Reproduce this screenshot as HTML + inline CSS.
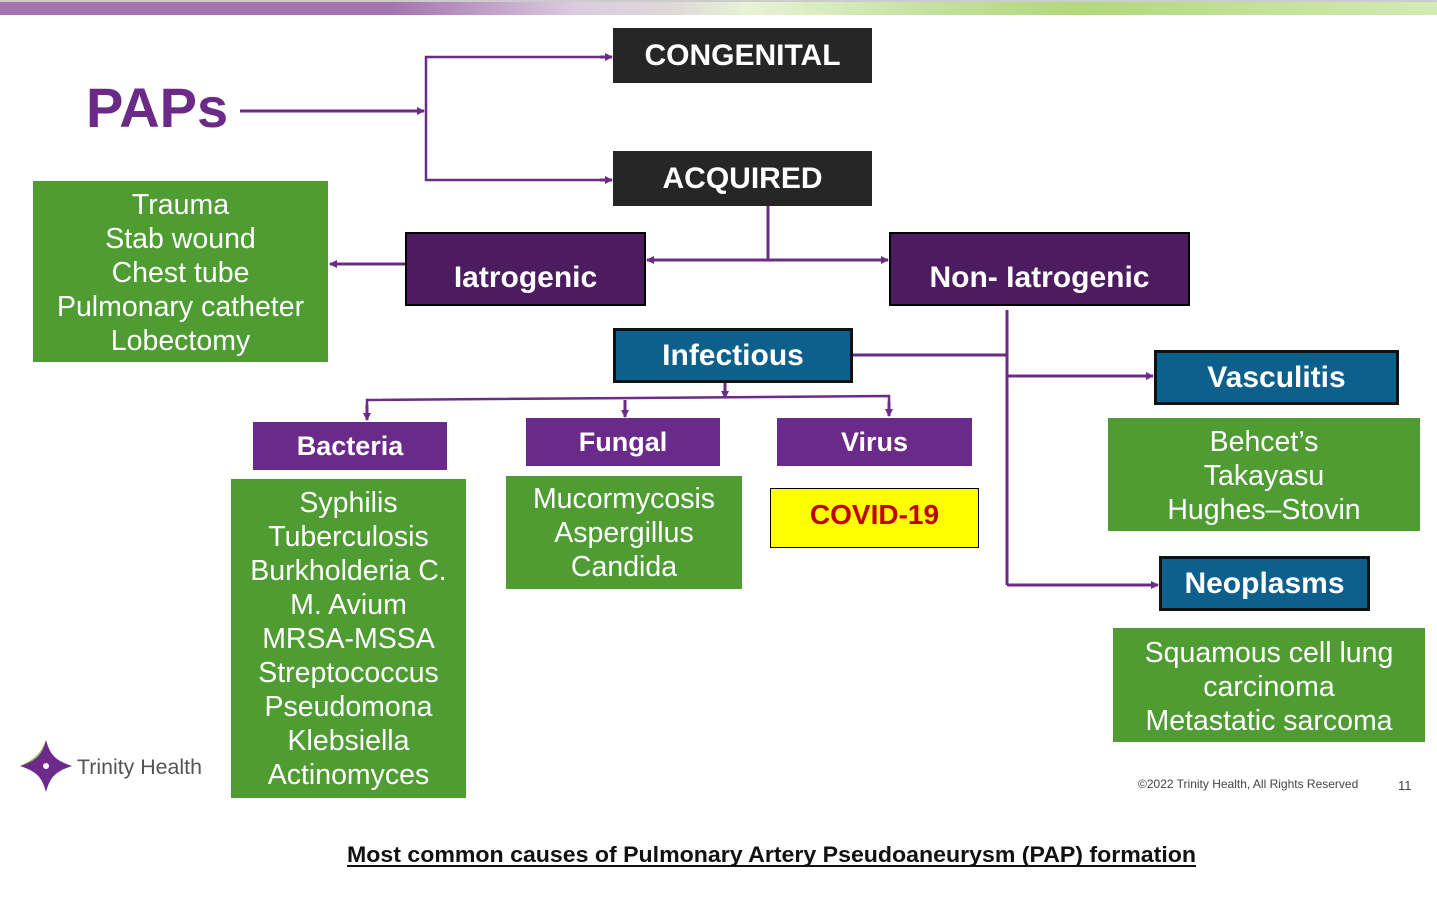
<!DOCTYPE html>
<html><head><meta charset="utf-8"><style>
*{margin:0;padding:0;box-sizing:border-box}
body{width:1437px;height:898px;position:relative;background:#fff;overflow:hidden;font-family:"Liberation Sans",Arial,sans-serif}
.b{position:absolute;display:flex;align-items:center;justify-content:center;text-align:center;color:#fff;font-weight:bold}
.k{background:#262626;font-size:30px}
.p{background:#4d1b5f;border:2px solid #000;font-size:30px}
.u{background:#0d5f8c;border:3px solid #111;font-size:30px}
.v{background:#6a2a8a;font-size:27px}
.g{position:absolute;background:#4f9c33;color:#fff;text-align:center;font-size:28.5px;line-height:34px}
</style></head><body>
<svg style="position:absolute;left:0;top:0" width="1437" height="898">
<defs>
<linearGradient id="bn" x1="0" x2="1">
<stop offset="0" stop-color="#a374ad"/><stop offset="0.27" stop-color="#a374ad"/><stop offset="0.32" stop-color="#b892c0"/><stop offset="0.4" stop-color="#dccbe0"/><stop offset="0.47" stop-color="#dedad8"/><stop offset="0.52" stop-color="#e8f3d6"/><stop offset="0.65" stop-color="#c3e0a0"/><stop offset="0.75" stop-color="#b1d87a"/><stop offset="0.9" stop-color="#c5e3a0"/><stop offset="1" stop-color="#d3ebb5"/>
</linearGradient>
<marker id="a" markerWidth="8" markerHeight="8" refX="7" refY="4" orient="auto" markerUnits="userSpaceOnUse"><path d="M0,0 L8,4 L0,8z" fill="#6a2c84"/></marker>
</defs>
<rect x="0" y="0" width="1437" height="2" fill="#ccc"/>
<rect x="0" y="2" width="1437" height="13" fill="url(#bn)"/>
<g stroke="#6a2c84" stroke-width="3" fill="none">
<line x1="240" y1="111" x2="424" y2="111" marker-end="url(#a)"/>
<polyline points="612,57 426,57 426,180 612,180" stroke-width="2.5"/>
<line x1="600" y1="57" x2="612" y2="57" marker-end="url(#a)"/>
<line x1="600" y1="180" x2="612" y2="180" marker-end="url(#a)"/>
<line x1="768" y1="206" x2="768" y2="260"/>
<line x1="768" y1="260" x2="647" y2="260" marker-end="url(#a)"/>
<line x1="768" y1="260" x2="888" y2="260" marker-end="url(#a)"/>
<line x1="405" y1="264" x2="330" y2="264" marker-end="url(#a)"/>
<line x1="1007" y1="310" x2="1007" y2="585"/>
<line x1="852" y1="355" x2="1007" y2="355"/>
<line x1="1007" y1="376" x2="1153" y2="376" marker-end="url(#a)"/>
<line x1="1007" y1="585" x2="1158" y2="585" marker-end="url(#a)"/>
<line x1="725" y1="382" x2="725" y2="398" marker-end="url(#a)"/>
<polyline points="367,418 367,400 889,396 889,416" stroke-width="2.5"/>
<line x1="367" y1="405" x2="367" y2="420" marker-end="url(#a)"/>
<line x1="625" y1="400" x2="625" y2="417" marker-end="url(#a)"/>
<line x1="889" y1="402" x2="889" y2="416" marker-end="url(#a)"/>
</g>
<text x="86" y="127" font-size="56" font-weight="bold" fill="#6b2a86" font-family="Liberation Sans">PAPs</text>
<text x="347" y="862" font-size="22" font-weight="bold" fill="#111" textLength="849" lengthAdjust="spacingAndGlyphs" font-family="Liberation Sans">Most common causes of Pulmonary Artery Pseudoaneurysm (PAP) formation</text>
<line x1="347" y1="866" x2="1196" y2="866" stroke="#111" stroke-width="2"/>
<text x="1138" y="788" font-size="12" fill="#444" font-family="Liberation Sans">©2022 Trinity Health, All Rights Reserved</text>
<text x="1398" y="790" font-size="13" fill="#444" font-family="Liberation Sans">11</text>
<g transform="translate(46,766)">
<path d="M0,-26 C4,-12 8,-6 26,0 C8,6 4,12 0,26 C-4,12 -8,6 -26,0 C-8,-6 -4,-12 0,-26z" fill="#6e2a8a"/>
<path d="M0,-26 C-4,-12 -8,-6 -26,0 C-14,-6 -6,-10 0,-26z" fill="#8bc34a"/>
<circle r="3" fill="#fff"/>
</g>
<text x="77" y="774" font-size="21" fill="#555" font-family="Liberation Sans" textLength="125" lengthAdjust="spacingAndGlyphs">Trinity Health</text>
</svg>
<div class="b k" style="left:613px;top:28px;width:259px;height:55px">CONGENITAL</div>
<div class="b k" style="left:613px;top:151px;width:259px;height:55px">ACQUIRED</div>
<div class="g" style="left:33px;top:181px;width:295px;height:181px;padding-top:7px">Trauma<br>Stab wound<br>Chest tube<br>Pulmonary catheter<br>Lobectomy</div>
<div class="b p" style="left:405px;top:232px;width:241px;height:74px;padding-top:17px">Iatrogenic</div>
<div class="b p" style="left:889px;top:232px;width:301px;height:74px;padding-top:17px">Non- Iatrogenic</div>
<div class="b u" style="left:613px;top:328px;width:240px;height:55px">Infectious</div>
<div class="b u" style="left:1154px;top:350px;width:245px;height:55px">Vasculitis</div>
<div class="g" style="left:1108px;top:418px;width:312px;height:113px;padding-top:7px">Behcet’s<br>Takayasu<br>Hughes–Stovin</div>
<div class="b u" style="left:1159px;top:556px;width:211px;height:55px">Neoplasms</div>
<div class="g" style="left:1113px;top:628px;width:312px;height:114px;padding-top:8px">Squamous cell lung<br>carcinoma<br>Metastatic sarcoma</div>
<div class="b v" style="left:253px;top:422px;width:194px;height:48px">Bacteria</div>
<div class="g" style="left:231px;top:479px;width:235px;height:319px;padding-top:7px">Syphilis<br>Tuberculosis<br>Burkholderia C.<br>M. Avium<br>MRSA-MSSA<br>Streptococcus<br>Pseudomona<br>Klebsiella<br>Actinomyces</div>
<div class="b v" style="left:526px;top:418px;width:194px;height:48px">Fungal</div>
<div class="g" style="left:506px;top:476px;width:236px;height:113px;padding-top:6px">Mucormycosis<br>Aspergillus<br>Candida</div>
<div class="b v" style="left:777px;top:418px;width:195px;height:48px">Virus</div>
<div class="b" style="left:770px;top:488px;width:209px;height:60px;background:#ffff00;border:1px solid #000;color:#c00000;font-size:28px;padding-bottom:6px">COVID-19</div>
</body></html>
